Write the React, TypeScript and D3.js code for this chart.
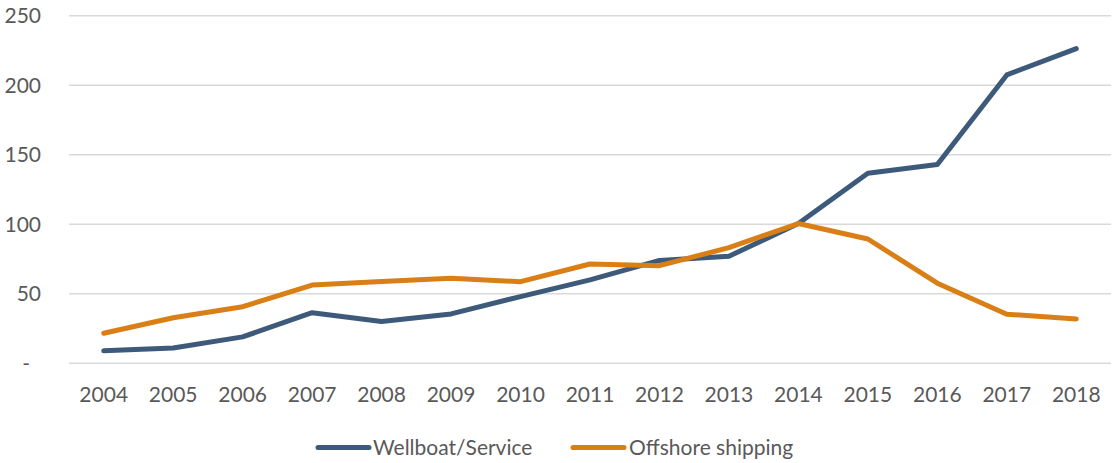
import React from "react";
import * as d3 from "d3";

const years = ["2004","2005","2006","2007","2008","2009","2010","2011","2012","2013","2014","2015","2016","2017","2018"];
const wellboat = [9, 11, 19, 36.4, 30, 35.5, 48, 60, 74, 77, 100.5, 136.7, 143, 207.4, 226.3];
const offshore = [21.6, 32.8, 40.7, 56.3, 58.8, 61.2, 58.7, 71.4, 70.2, 83.2, 100.5, 89.4, 57.6, 35.3, 31.9];
const yTicks = [0, 50, 100, 150, 200, 250];

const W = 1113, H = 463;
const left = 69, right = 1111, top = 15.7, bottom = 363.3;
const FONT = "Lato, 'Open Sans', sans-serif";
const FS = 21;

export default function App() {
  const x = d3.scalePoint<string>().domain(years).range([left, right]).padding(0.5);
  const y = d3.scaleLinear().domain([0, 250]).range([bottom, top]);
  const line = d3.line<number>().x((_, i) => x(years[i])!).y(d => y(d));
  const blue = "#3E5A7B", orange = "#DA7E16";
  return (
    <svg width={W} height={H} style={{ position: "absolute", left: 0, top: 0, background: "#fff" }}>
      {yTicks.map(t => (
        <g key={t}>
          <line x1={left} x2={right} y1={y(t)} y2={y(t)} stroke="#D9D9D9" strokeWidth={1.5} />
          <text x={t === 0 ? 30 : 41} y={y(t)} dy="0.36em" textAnchor="end" fontFamily={FONT} fontSize={FS} fill="#595959">{t === 0 ? "-" : t}</text>
        </g>
      ))}
      {years.map(yr => (
        <text key={yr} x={x(yr)} y={401.5} textAnchor="middle" fontFamily={FONT} fontSize={FS} fill="#595959">{yr}</text>
      ))}
      <path d={line(wellboat)!} fill="none" stroke={blue} strokeWidth={5} strokeLinecap="round" strokeLinejoin="round" />
      <path d={line(offshore)!} fill="none" stroke={orange} strokeWidth={5} strokeLinecap="round" strokeLinejoin="round" />
      <g>
        <line x1={318} x2={369} y1={447.5} y2={447.5} stroke={blue} strokeWidth={5} strokeLinecap="round" />
        <text x={373} y={447.5} dy="0.36em" fontFamily={FONT} fontSize={FS} fill="#595959">Wellboat/Service</text>
        <line x1={573} x2={624} y1={447.5} y2={447.5} stroke={orange} strokeWidth={5} strokeLinecap="round" />
        <text x={629} y={447.5} dy="0.36em" fontFamily={FONT} fontSize={FS} fill="#595959">Offshore shipping</text>
      </g>
    </svg>
  );
}
